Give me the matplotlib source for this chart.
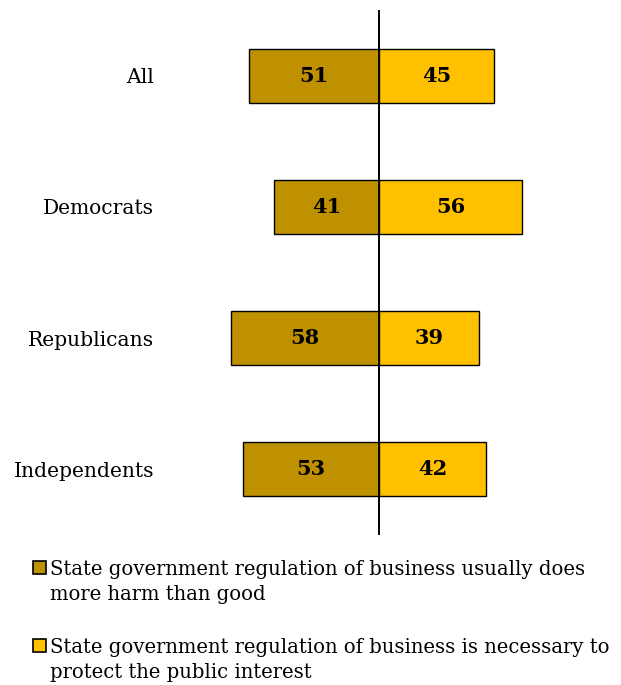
import matplotlib
matplotlib.use("Agg")
import matplotlib.pyplot as plt
from matplotlib.patches import Rectangle

# ------------------- DATA -------------------
groups = ["All", "Democrats", "Republicans", "Independents"]
harm = [51, 41, 58, 53]
necessary = [45, 56, 39, 42]
harm_label = "State government regulation of business usually does\nmore harm than good"
need_label = "State government regulation of business is necessary to\nprotect the public interest"
# --------------------------------------------

HARM_COLOR = "#BF9000"
NEED_COLOR = "#FFC000"
FONT = "DejaVu Serif"

plt.rcParams["font.family"] = FONT

W, H = 621, 685
fig = plt.figure(figsize=(W / 100, H / 100), dpi=100)
ax = fig.add_axes([200 / W, 1 - 535 / H, 358 / W, 525 / H])

ypos = list(range(len(groups)))
ax.barh(ypos, [-v for v in harm], height=0.41, color=HARM_COLOR, edgecolor="black", linewidth=1)
ax.barh(ypos, necessary, height=0.41, color=NEED_COLOR, edgecolor="black", linewidth=1)
ax.axvline(0, color="black", linewidth=1.4)

for y, h, n in zip(ypos, harm, necessary):
    ax.text(-h / 2, y, str(h), ha="center", va="center", fontsize=15, fontweight="bold")
    ax.text(n / 2, y, str(n), ha="center", va="center", fontsize=15, fontweight="bold")

ax.set_xlim(-70, 70)
ax.set_ylim(3.5, -0.5)
ax.set_yticks(ypos)
ax.set_yticklabels(groups, fontsize=14.6)
ax.tick_params(axis="y", length=0, pad=33)
ax.set_xticks([])
for s in ax.spines.values():
    s.set_visible(False)

# legend drawn by hand so the box sits on the first line of each label
for label, color, top in [(harm_label, HARM_COLOR, 561), (need_label, NEED_COLOR, 639)]:
    fig.add_artist(Rectangle((33 / W, 1 - (top + 13) / H), 13 / W, 13 / H,
                             transform=fig.transFigure, facecolor=color,
                             edgecolor="black", linewidth=1.2))
    fig.text(50 / W, 1 - (top - 1) / H, label, ha="left", va="top",
             fontsize=14.15, linespacing=1.42)

fig.savefig("out.png", dpi=100)
